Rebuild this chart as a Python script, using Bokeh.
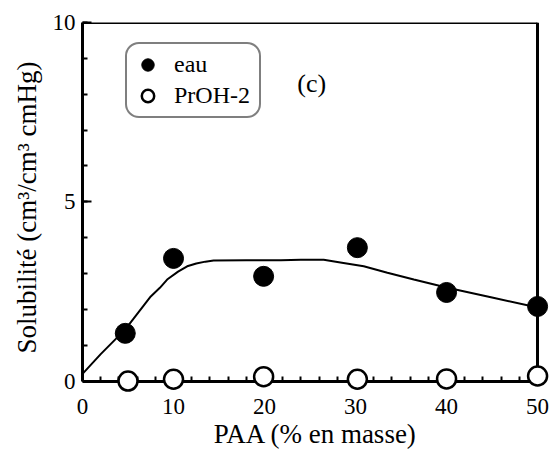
from bokeh.plotting import figure
from bokeh.models import Range1d, LinearAxis, Legend, LegendItem, Label, FixedTicker
from bokeh.embed import file_html
from bokeh.resources import INLINE

# --- data ---
eau_x = [4.7, 10.0, 19.9, 30.2, 40.0, 50.0]
eau_y = [1.33, 3.42, 2.92, 3.72, 2.47, 2.08]
proh_x = [5.0, 10.0, 19.9, 30.2, 40.0, 50.0]
proh_y = [0.0, 0.05, 0.12, 0.05, 0.06, 0.14]
curve_x = [0, 2, 4.7, 7.5, 8.5, 9.3, 10.5, 11.5, 12.5, 13.5, 14.4, 18, 21.8, 24, 26.5, 28.5, 30.9, 33.5, 36.4, 40.1, 45, 50]
curve_y = [0.2, 0.75, 1.44, 2.36, 2.6, 2.83, 3.05, 3.2, 3.28, 3.33, 3.36, 3.37, 3.37, 3.38, 3.38, 3.3, 3.2, 3.02, 2.83, 2.6, 2.33, 2.05]
x_ticks = [0, 10, 20, 30, 40, 50]
y_ticks = [0, 5, 10]
x_label = "PAA (% en masse)"
y_label = "Solubilité (cm³/cm³ cmHg)"
series_names = ["eau", "PrOH-2"]
panel_tag = "(c)"

FONT = "Liberation Serif"

p = figure(width=552, height=451,
           x_range=Range1d(0, 51.2), y_range=Range1d(-0.32, 10),
           output_backend="svg", toolbar_location=None,
           x_axis_location=None, y_axis_location=None,
           min_border_left=82, min_border_right=4,
           min_border_top=22, min_border_bottom=58)
p.outline_line_color = None
p.xgrid.visible = False
p.ygrid.visible = False
p.background_fill_color = "white"
p.border_fill_color = "white"

def style(ax):
    ax.axis_line_width = 3
    ax.axis_line_color = "black"
    ax.major_tick_in = 9
    ax.major_tick_out = 0
    ax.minor_tick_in = 5
    ax.minor_tick_out = 0
    ax.major_tick_line_width = 2
    ax.minor_tick_line_width = 2
    ax.major_label_text_font = FONT
    ax.major_label_text_font_size = "23px"
    ax.major_label_text_color = "black"
    ax.axis_label_text_font = FONT
    ax.axis_label_text_font_size = "27px"
    ax.axis_label_text_font_style = "normal"
    ax.axis_label_text_color = "black"

# bottom: labels only (at frame edge), line+ticks drawn by a fixed axis at y=0
xb = LinearAxis(ticker=FixedTicker(ticks=x_ticks), axis_label=x_label)
style(xb)
xb.axis_line_color = None
xb.major_tick_line_color = None
xb.minor_tick_line_color = None
xb.major_label_standoff = 6
xb.axis_label_standoff = 2
p.add_layout(xb, "below")

xline = LinearAxis(ticker=FixedTicker(ticks=x_ticks, minor_ticks=list(range(0, 51, 2))),
                   fixed_location=0, bounds=(0, 50))
style(xline)
xline.major_label_text_font_size = "0px"
xline.major_label_text_color = None
p.add_layout(xline, "below")

yl = LinearAxis(ticker=FixedTicker(ticks=y_ticks, minor_ticks=list(range(0, 11))),
                axis_label=y_label, bounds=(0, 10))
style(yl)
yl.major_label_standoff = 7
yl.axis_label_standoff = 8
p.add_layout(yl, "left")

for loc, fl in (("above", 10), ("right", 50)):
    ax = LinearAxis(fixed_location=fl, bounds=(0, 50) if loc == "above" else (0, 10))
    ax.axis_line_width = 3
    ax.major_tick_line_color = None
    ax.minor_tick_line_color = None
    ax.major_label_text_font_size = "0px"
    ax.major_label_text_color = None
    p.add_layout(ax, loc)

p.line(curve_x, curve_y, line_color="black", line_width=2)

r_eau = p.scatter(eau_x, eau_y, size=20, marker="circle", fill_color="black",
                  line_color="black", level="overlay")
r_proh = p.scatter(proh_x, proh_y, size=19, marker="circle", fill_color="white",
                   line_color="black", line_width=2.5, level="overlay")

legend = Legend(items=[LegendItem(label=series_names[0], renderers=[r_eau]),
                       LegendItem(label=series_names[1], renderers=[r_proh])],
                location=(43, 371 - 25 - 72),
                glyph_width=31, glyph_height=31, label_standoff=11,
                label_width=80, padding=5, spacing=0,
                label_text_font=FONT, label_text_font_size="24px",
                label_text_color="black",
                border_line_color="black", border_line_width=2,
                background_fill_color="white", background_fill_alpha=1.0)
try:
    legend.border_radius = 14
except Exception:
    pass
p.add_layout(legend, "center")

p.add_layout(Label(x=23.6, y=8.3, text=panel_tag, text_font=FONT,
                   text_font_size="26px", text_baseline="middle",
                   text_align="left", text_color="black"))

open("out.html", "w").write(file_html(p, INLINE))
